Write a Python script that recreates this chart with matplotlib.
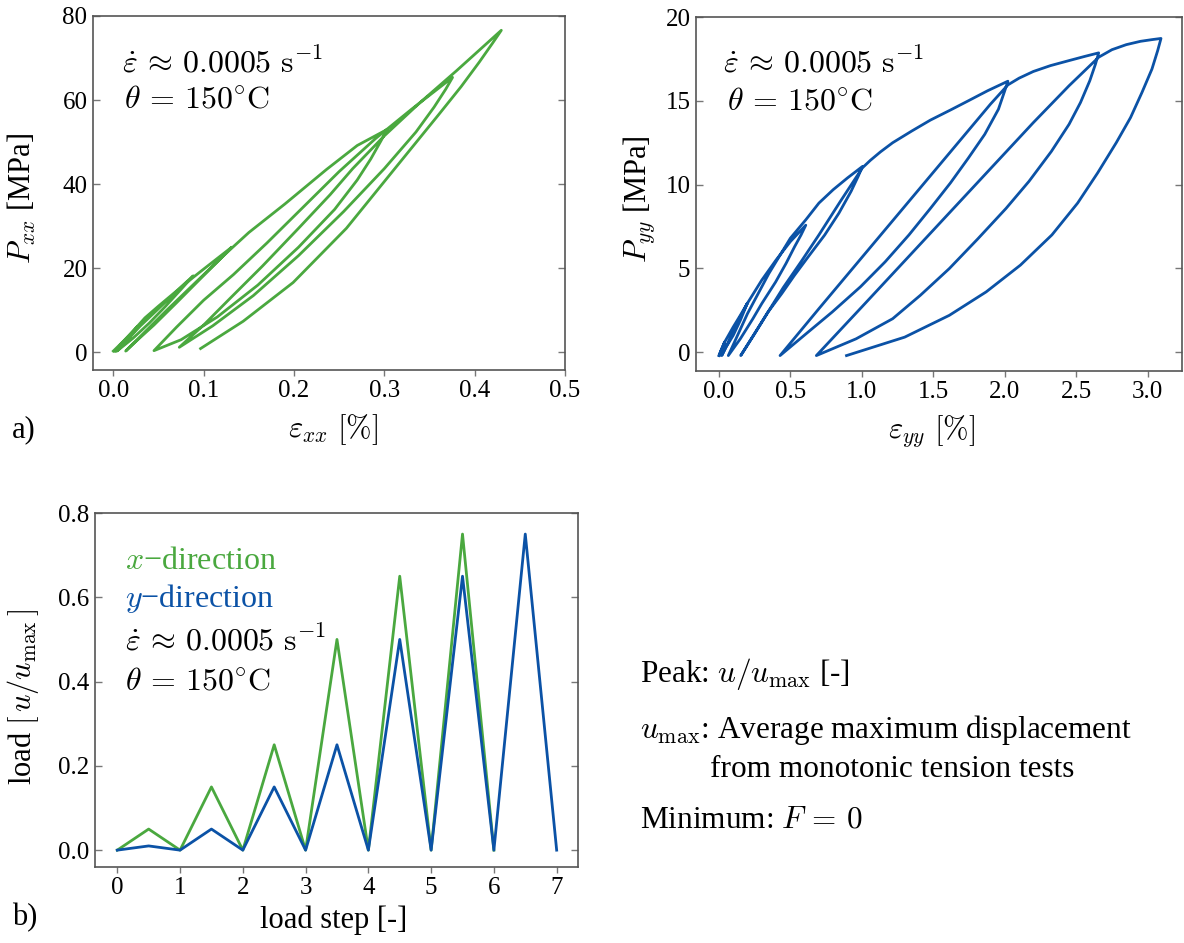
import matplotlib
matplotlib.use('Agg')
import matplotlib.pyplot as plt

plt.rcParams['font.family'] = ['Liberation Serif', 'DejaVu Serif']
plt.rcParams['mathtext.fontset'] = 'cm'

GREEN = '#4aa83f'
BLUE = '#0b52a6'

# ---------------- data: x-direction cyclic test (strain %, stress MPa) ----------------
exx = [0.000, 0.010, 0.019, 0.027, 0.022, 0.013, 0.002,                      # cycle 1
       0.008, 0.020, 0.035, 0.050, 0.070, 0.0885, 0.075, 0.058, 0.040, 0.022, 0.004,  # cycle 2
       0.012, 0.030, 0.055, 0.080, 0.100, 0.131, 0.115, 0.095, 0.070, 0.045, 0.025, 0.0137,  # cycle 3
       0.030, 0.060, 0.090, 0.120, 0.150, 0.190, 0.236, 0.270, 0.303,
       0.296, 0.285, 0.270, 0.245, 0.205, 0.160, 0.115, 0.075, 0.045,        # cycle 4
       0.070, 0.100, 0.133, 0.170, 0.210, 0.250, 0.290, 0.330, 0.3755,
       0.368, 0.355, 0.335, 0.300, 0.255, 0.205, 0.155, 0.110, 0.073,        # cycle 5
       0.100, 0.130, 0.165, 0.205, 0.240, 0.265, 0.300, 0.340, 0.380, 0.4295,
       0.420, 0.405, 0.385, 0.360, 0.3116, 0.258, 0.199, 0.1438, 0.0966]     # cycle 6
pxx = [0.3, 2.4, 4.4, 6.2, 4.6, 2.3, 0.2,
       1.8, 4.6, 8.2, 11.0, 14.6, 18.2, 15.0, 11.0, 7.0, 3.4, 0.3,
       2.2, 6.3, 11.4, 16.4, 19.8, 25.0, 21.5, 17.2, 11.8, 6.5, 2.6, 0.3,
       3.8, 10.2, 16.4, 22.6, 28.5, 35.3, 43.5, 49.2, 53.0,
       50.2, 46.0, 41.0, 34.0, 25.0, 16.0, 8.4, 3.0, 0.4,
       6.0, 12.4, 18.5, 26.0, 34.5, 43.0, 50.8, 57.8, 65.4,
       62.6, 58.3, 52.4, 43.7, 33.5, 23.0, 13.5, 6.3, 1.2,
       6.5, 13.0, 20.5, 29.5, 37.5, 43.7, 51.5, 59.5, 67.0, 76.6,
       73.6, 69.0, 63.2, 56.5, 43.7, 29.5, 16.6, 7.4, 0.9]

# ---------------- data: y-direction cyclic test (strain %, stress MPa) ----------------
eyy = [0.000, 0.020, 0.040, 0.025, 0.005,                                   # cycle 1
       0.010, 0.040, 0.100, 0.150, 0.198, 0.150, 0.100, 0.050, 0.020,       # cycle 2
       0.060, 0.120, 0.198, 0.300, 0.400, 0.500, 0.608,
       0.575, 0.530, 0.470, 0.397, 0.300, 0.238, 0.150, 0.066,              # cycle 3
       0.200, 0.350, 0.500, 0.608, 0.700, 0.800, 0.900, 1.004,
       0.975, 0.925, 0.840, 0.740, 0.630, 0.529, 0.440, 0.344, 0.250, 0.153,  # cycle 4
       0.300, 0.450, 0.579, 0.700, 0.850, 1.004, 1.060, 1.130, 1.216, 1.350, 1.480, 1.620, 1.745, 1.880, 2.022,
       2.000, 1.956, 1.860, 1.745, 1.620, 1.480, 1.330, 1.163, 0.990, 0.793, 0.610, 0.428,  # cycle 5
       0.700, 1.000, 1.300, 1.600, 1.900, 2.022, 2.100, 2.200, 2.320, 2.450, 2.560, 2.657,
       2.635, 2.595, 2.530, 2.450, 2.326, 2.170, 2.009, 1.810, 1.612, 1.410, 1.216, 0.960, 0.682,  # cycle 6
       1.000, 1.300, 1.600, 1.900, 2.200, 2.450, 2.657, 2.750, 2.850, 2.950, 3.030, 3.093,
       3.070, 3.030, 2.960, 2.880, 2.780, 2.650, 2.510, 2.330, 2.110, 1.870, 1.612, 1.300, 0.893]  # cycle 7
pyy = [-0.2, 0.2, 0.6, 0.2, -0.2,
       0.0, 0.6, 1.5, 2.2, 2.9, 1.9, 1.0, 0.3, -0.2,
       0.5, 1.6, 2.9, 4.3, 5.5, 6.6, 7.58,
       7.0, 6.3, 5.3, 4.19, 2.9, 2.0, 0.8, -0.2,
       2.3, 4.7, 6.8, 7.9, 8.9, 9.7, 10.4, 11.08,
       10.5, 9.6, 8.3, 6.99, 5.75, 4.59, 3.5, 2.4, 1.1, -0.2,
       1.8, 3.85, 5.45, 7.0, 9.0, 11.0, 11.45, 11.95, 12.5, 13.2, 13.85, 14.45, 15.0, 15.6, 16.17,
       15.6, 14.5, 13.0, 11.58, 10.1, 8.58, 7.0, 5.39, 3.9, 2.4, 1.1, -0.2,
       2.6, 5.65, 8.7, 11.75, 14.8, 15.95, 16.35, 16.75, 17.1, 17.4, 17.65, 17.86,
       17.2, 16.2, 14.9, 13.6, 11.98, 10.2, 8.58, 6.75, 4.99, 3.4, 2.0, 0.8, -0.2,
       2.7, 5.45, 8.2, 10.95, 13.7, 15.9, 17.6, 18.05, 18.35, 18.55, 18.65, 18.72,
       18.0, 16.9, 15.5, 14.0, 12.5, 10.7, 8.9, 7.0, 5.2, 3.6, 2.2, 0.9, -0.2]

# ---------------- data: load plan ----------------
step_x = [0, 0.5, 1, 1.5, 2, 2.5, 3, 3.5, 4, 4.5, 5, 5.5, 6]
load_x = [0, 0.05, 0, 0.15, 0, 0.25, 0, 0.50, 0, 0.65, 0, 0.75, 0]
step_y = [0, 0.5, 1, 1.5, 2, 2.5, 3, 3.5, 4, 4.5, 5, 5.5, 6, 6.5, 7]
load_y = [0, 0.01, 0, 0.05, 0, 0.15, 0, 0.25, 0, 0.50, 0, 0.65, 0, 0.75, 0]

xticks_a = [0.0, 0.1, 0.2, 0.3, 0.4, 0.5]
yticks_a = [0, 20, 40, 60, 80]
xticks_b = [0.0, 0.5, 1.0, 1.5, 2.0, 2.5, 3.0]
yticks_b = [0, 5, 10, 15, 20]
xticks_c = [0, 1, 2, 3, 4, 5, 6, 7]
yticks_c = [0.0, 0.2, 0.4, 0.6, 0.8]

RATE = r'$\dot{\varepsilon}\,\approx\,0.0005\ \mathrm{s}^{-1}$'
TEMP = r'$\theta\,=\,150^{\circ}\mathrm{C}$'

W, H = 1184, 943
fig = plt.figure(figsize=(W / 100, H / 100), dpi=100)


def axes_px(x0, y0, x1, y1):
    return fig.add_axes([x0 / W, 1 - y1 / H, (x1 - x0) / W, (y1 - y0) / H])


def style(ax):
    for s in ax.spines.values():
        s.set_color('#555555')
        s.set_linewidth(1.2)
    ax.tick_params(axis='y', direction='in', left=True, right=True, length=5,
                   width=1, color='#777777', labelsize=18, pad=4)
    ax.tick_params(axis='x', direction='out', bottom=True, top=False, length=4,
                   width=1, color='#777777', labelsize=18, pad=3)


def labels(ax, xl, yl, xpos, ypos):
    ax.set_xlabel(xl, fontsize=22)
    ax.set_ylabel(yl, fontsize=22)
    ax.xaxis.set_label_coords(*xpos)
    ax.yaxis.set_label_coords(*ypos)
    ax.xaxis.label.set_verticalalignment('center')
    ax.yaxis.label.set_verticalalignment('center')


ax1 = axes_px(93, 16, 565, 370)
ax2 = axes_px(696, 17, 1182, 371)
ax3 = axes_px(95, 513, 578, 867)

# ---- a) left
ax1.plot(exx, pxx, color=GREEN, lw=2.0, solid_joinstyle='round')
ax1.set_xlim(-0.0225, 0.5)
ax1.set_ylim(-4.2, 80)
ax1.set_xticks(xticks_a)
ax1.set_xticklabels([f'{v:.1f}' for v in xticks_a])
ax1.set_yticks(yticks_a)
style(ax1)
labels(ax1, r'$\varepsilon_{xx}\ [\%]$', r'$P_{xx}$ [MPa]', (0.508, -0.169), (-0.15, 0.486))
ax1.text(0.010, 68.6, RATE, fontsize=23, va='center', ha='left')
ax1.text(0.012, 60.0, TEMP, fontsize=23, va='center', ha='left')

# ---- a) right
ax2.plot(eyy, pyy, color=BLUE, lw=2.0, solid_joinstyle='round')
ax2.set_xlim(-0.16, 3.24)
ax2.set_ylim(-1.12, 20)
ax2.set_xticks(xticks_b)
ax2.set_xticklabels([f'{v:.1f}' for v in xticks_b])
ax2.set_yticks(yticks_b)
style(ax2)
labels(ax2, r'$\varepsilon_{yy}\ [\%]$', r'$P_{yy}$ [MPa]', (0.485, -0.169), (-0.118, 0.486))
ax2.text(0.03, 17.2, RATE, fontsize=23, va='center', ha='left')
ax2.text(0.055, 14.9, TEMP, fontsize=23, va='center', ha='left')

# ---- b) load plan
ax3.plot(step_x, load_x, color=GREEN, lw=2.0)
ax3.plot(step_y, load_y, color=BLUE, lw=2.0)
ax3.set_xlim(-0.355, 7.34)
ax3.set_ylim(-0.04, 0.8)
ax3.set_xticks(xticks_c)
ax3.set_yticks(yticks_c)
ax3.set_yticklabels([f'{v:.1f}' for v in yticks_c])
style(ax3)
labels(ax3, 'load step [-]', r'load $[\,u/u_{\max}\,]$', (0.494, -0.15), (-0.15, 0.48))
ax3.text(0.12, 0.685, '$x$\u2212direction', fontsize=23, va='center', ha='left', color=GREEN)
ax3.text(0.12, 0.598, '$y$\u2212direction', fontsize=23, va='center', ha='left', color=BLUE)
ax3.text(0.12, 0.495, RATE, fontsize=23, va='center', ha='left')
ax3.text(0.12, 0.400, TEMP, fontsize=23, va='center', ha='left')

# ---- panel letters
fig.text(12 / W, 1 - 430 / H, 'a)', fontsize=22, va='center', ha='left')
fig.text(12 / W, 1 - 918 / H, 'b)', fontsize=22, va='center', ha='left')

# ---- description text
fig.text(640 / W, 1 - 682 / H, r'Peak: $u/u_{\mathrm{max}}$ [-]', fontsize=22.5, va='baseline')
fig.text(640 / W, 1 - 738 / H, r'$u_{\mathrm{max}}$: Average maximum displacement', fontsize=22.5, va='baseline')
fig.text(710 / W, 1 - 777 / H, 'from monotonic tension tests', fontsize=22.5, va='baseline')
fig.text(640 / W, 1 - 827 / H, r'Minimum: $F\,=\,0$', fontsize=22.5, va='baseline')

fig.savefig('out.png', dpi=100)
